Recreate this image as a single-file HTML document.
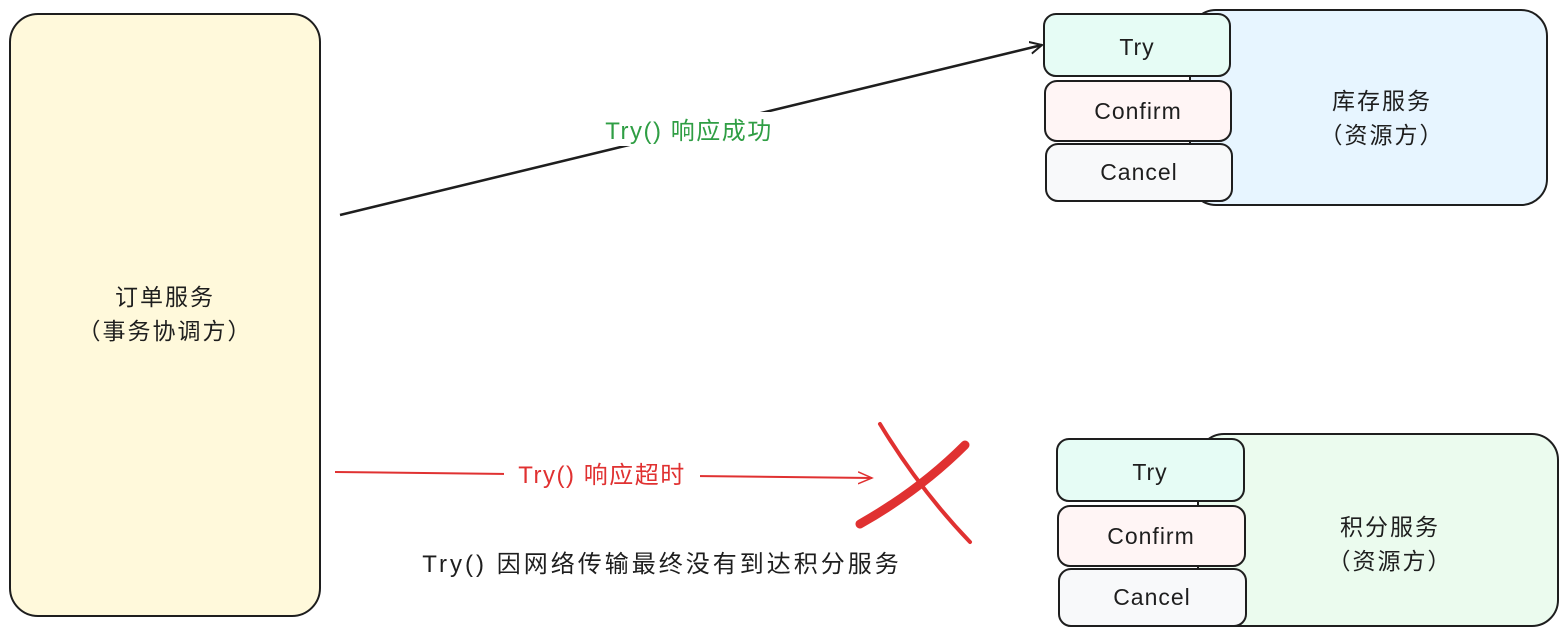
<!DOCTYPE html>
<html><head><meta charset="utf-8"><style>
html,body{margin:0;padding:0;background:#fff;}
svg{display:block;}
text{font-family:"Liberation Sans","Noto Sans CJK SC",sans-serif;}
</style></head><body>
<svg width="1566" height="639" viewBox="0 0 1566 639" xmlns="http://www.w3.org/2000/svg">
<defs>
<marker id="ab" markerWidth="14" markerHeight="14" refX="12" refY="7" orient="auto" markerUnits="userSpaceOnUse"><path d="M0,1 L12,7 L0,13" fill="none" stroke="#1e1e1e" stroke-width="2"/></marker>
<marker id="ar" markerWidth="16" markerHeight="14" refX="14" refY="7" orient="auto" markerUnits="userSpaceOnUse"><path d="M0,1 L14,7 L0,13" fill="none" stroke="#e03131" stroke-width="1.5"/></marker>
</defs>
<rect x="10" y="14" width="310" height="602" rx="28" fill="#fff9db" stroke="#1e1e1e" stroke-width="2"/>
<text x="165" y="305" font-size="23" letter-spacing="2" text-anchor="middle" fill="#1e1e1e">订单服务</text>
<text x="165" y="339" font-size="23" letter-spacing="2" text-anchor="middle" fill="#1e1e1e">（事务协调方）</text>
<rect x="1190" y="10" width="357" height="195" rx="26" fill="#e7f5ff" stroke="#1e1e1e" stroke-width="2"/>
<text x="1382" y="109" font-size="23" letter-spacing="2" text-anchor="middle" fill="#1e1e1e">库存服务</text>
<text x="1382" y="143" font-size="23" letter-spacing="2" text-anchor="middle" fill="#1e1e1e">（资源方）</text>
<rect x="1044" y="14" width="186" height="62" rx="12" fill="#e6fcf5" stroke="#1e1e1e" stroke-width="2"/>
<text x="1137" y="55" font-size="23" letter-spacing="1" text-anchor="middle" fill="#1e1e1e">Try</text>
<rect x="1045" y="81" width="186" height="60" rx="12" fill="#fff5f5" stroke="#1e1e1e" stroke-width="2"/>
<text x="1138" y="119" font-size="23" letter-spacing="1" text-anchor="middle" fill="#1e1e1e">Confirm</text>
<rect x="1046" y="144" width="186" height="57" rx="12" fill="#f8f9fa" stroke="#1e1e1e" stroke-width="2"/>
<text x="1139" y="180" font-size="23" letter-spacing="1" text-anchor="middle" fill="#1e1e1e">Cancel</text>
<rect x="1198" y="434" width="360" height="192" rx="26" fill="#ebfbee" stroke="#1e1e1e" stroke-width="2"/>
<text x="1390" y="535" font-size="23" letter-spacing="2" text-anchor="middle" fill="#1e1e1e">积分服务</text>
<text x="1390" y="569" font-size="23" letter-spacing="2" text-anchor="middle" fill="#1e1e1e">（资源方）</text>
<rect x="1057" y="439" width="187" height="62" rx="12" fill="#e6fcf5" stroke="#1e1e1e" stroke-width="2"/>
<text x="1150" y="480" font-size="23" letter-spacing="1" text-anchor="middle" fill="#1e1e1e">Try</text>
<rect x="1058" y="506" width="187" height="60" rx="12" fill="#fff5f5" stroke="#1e1e1e" stroke-width="2"/>
<text x="1151" y="544" font-size="23" letter-spacing="1" text-anchor="middle" fill="#1e1e1e">Confirm</text>
<rect x="1059" y="569" width="187" height="57" rx="12" fill="#f8f9fa" stroke="#1e1e1e" stroke-width="2"/>
<text x="1152" y="605" font-size="23" letter-spacing="1" text-anchor="middle" fill="#1e1e1e">Cancel</text>
<line x1="340" y1="215" x2="1042" y2="45" stroke="#1e1e1e" stroke-width="2.5" marker-end="url(#ab)"/>
<rect x="592" y="112" width="194" height="34" fill="#fff"/>
<text x="689" y="139" font-size="24" letter-spacing="1.5" text-anchor="middle" fill="#2f9e44">Try() 响应成功</text>
<line x1="335" y1="472" x2="872" y2="478" stroke="#e03131" stroke-width="2" marker-end="url(#ar)"/>
<rect x="504" y="456" width="196" height="34" fill="#fff"/>
<text x="602" y="483" font-size="24" letter-spacing="1.5" text-anchor="middle" fill="#e03131">Try() 响应超时</text>
<path d="M880,424 Q920,490 970,542" stroke="#e03131" stroke-width="4" fill="none" stroke-linecap="round"/>
<path d="M965,445 Q920,490 860,524" stroke="#e03131" stroke-width="9" fill="none" stroke-linecap="round"/>
<text x="662" y="572" font-size="24" letter-spacing="3" text-anchor="middle" fill="#1e1e1e">Try() 因网络传输最终没有到达积分服务</text>
</svg>
</body></html>
